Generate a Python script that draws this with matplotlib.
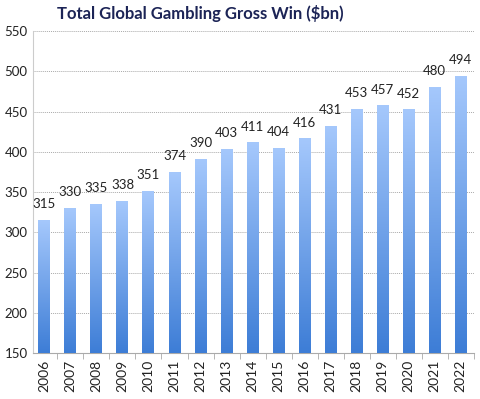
import numpy as np
import matplotlib.pyplot as plt
from matplotlib.colors import LinearSegmentedColormap

years = ['2006', '2007', '2008', '2009', '2010', '2011', '2012', '2013', '2014',
         '2015', '2016', '2017', '2018', '2019', '2020', '2021', '2022']
gross_win = [315, 330, 335, 338, 351, 374, 390, 403, 411, 404, 416, 431, 453, 457, 452, 480, 494]
y_ticks = [150, 200, 250, 300, 350, 400, 450, 500, 550]

plt.rcParams['font.family'] = ['Lato', 'DejaVu Sans']

fig = plt.figure(figsize=(4.81, 3.99), dpi=100)
ax = fig.add_axes([0.069, 0.115, 0.916, 0.807])

# gradient: dark blue at the bottom to light blue at the top
cmap = LinearSegmentedColormap.from_list('bar', ['#3d7dd6', '#a5c8fc'])
grad = np.linspace(0, 1, 256).reshape(-1, 1)
bar_w = 0.46
ymin = 150

x = np.arange(len(years))
for i, v in enumerate(gross_win):
    ax.imshow(grad, cmap=cmap, origin='lower', aspect='auto',
              extent=(x[i] - bar_w / 2, x[i] + bar_w / 2, ymin, v), zorder=3)
    ax.text(x[i], v + 13, str(v), ha='center', va='bottom', fontsize=9.5, color='#222222')

ax.set_xlim(-0.43, 16.5)
ax.set_ylim(150, 550)
ax.set_yticks(y_ticks)
ax.tick_params(axis='y', length=0, labelsize=9.5, colors='#222222', pad=4)
ax.set_xticks(x)
ax.set_xticklabels(years, rotation=90, fontsize=10, color='#222222')
ax.tick_params(axis='x', length=0, pad=5)
# small separators between categories
ax.set_xticks(x + 0.5, minor=True)
ax.tick_params(axis='x', which='minor', length=4, color='#aaaaaa')

ax.grid(axis='y', linestyle=(0, (1, 1)), color='#aaaaaa', linewidth=0.7, zorder=0)
for s in ['top', 'right']:
    ax.spines[s].set_visible(False)
ax.spines['left'].set_color('#cccccc')
ax.spines['bottom'].set_color('#aaaaaa')

fig.text(0.118, 0.966, 'Total Global Gambling Gross Win ($bn)', fontsize=12,
         fontweight='bold', color='#1c2456', ha='left', va='center')

fig.savefig('out.png', dpi=100)
